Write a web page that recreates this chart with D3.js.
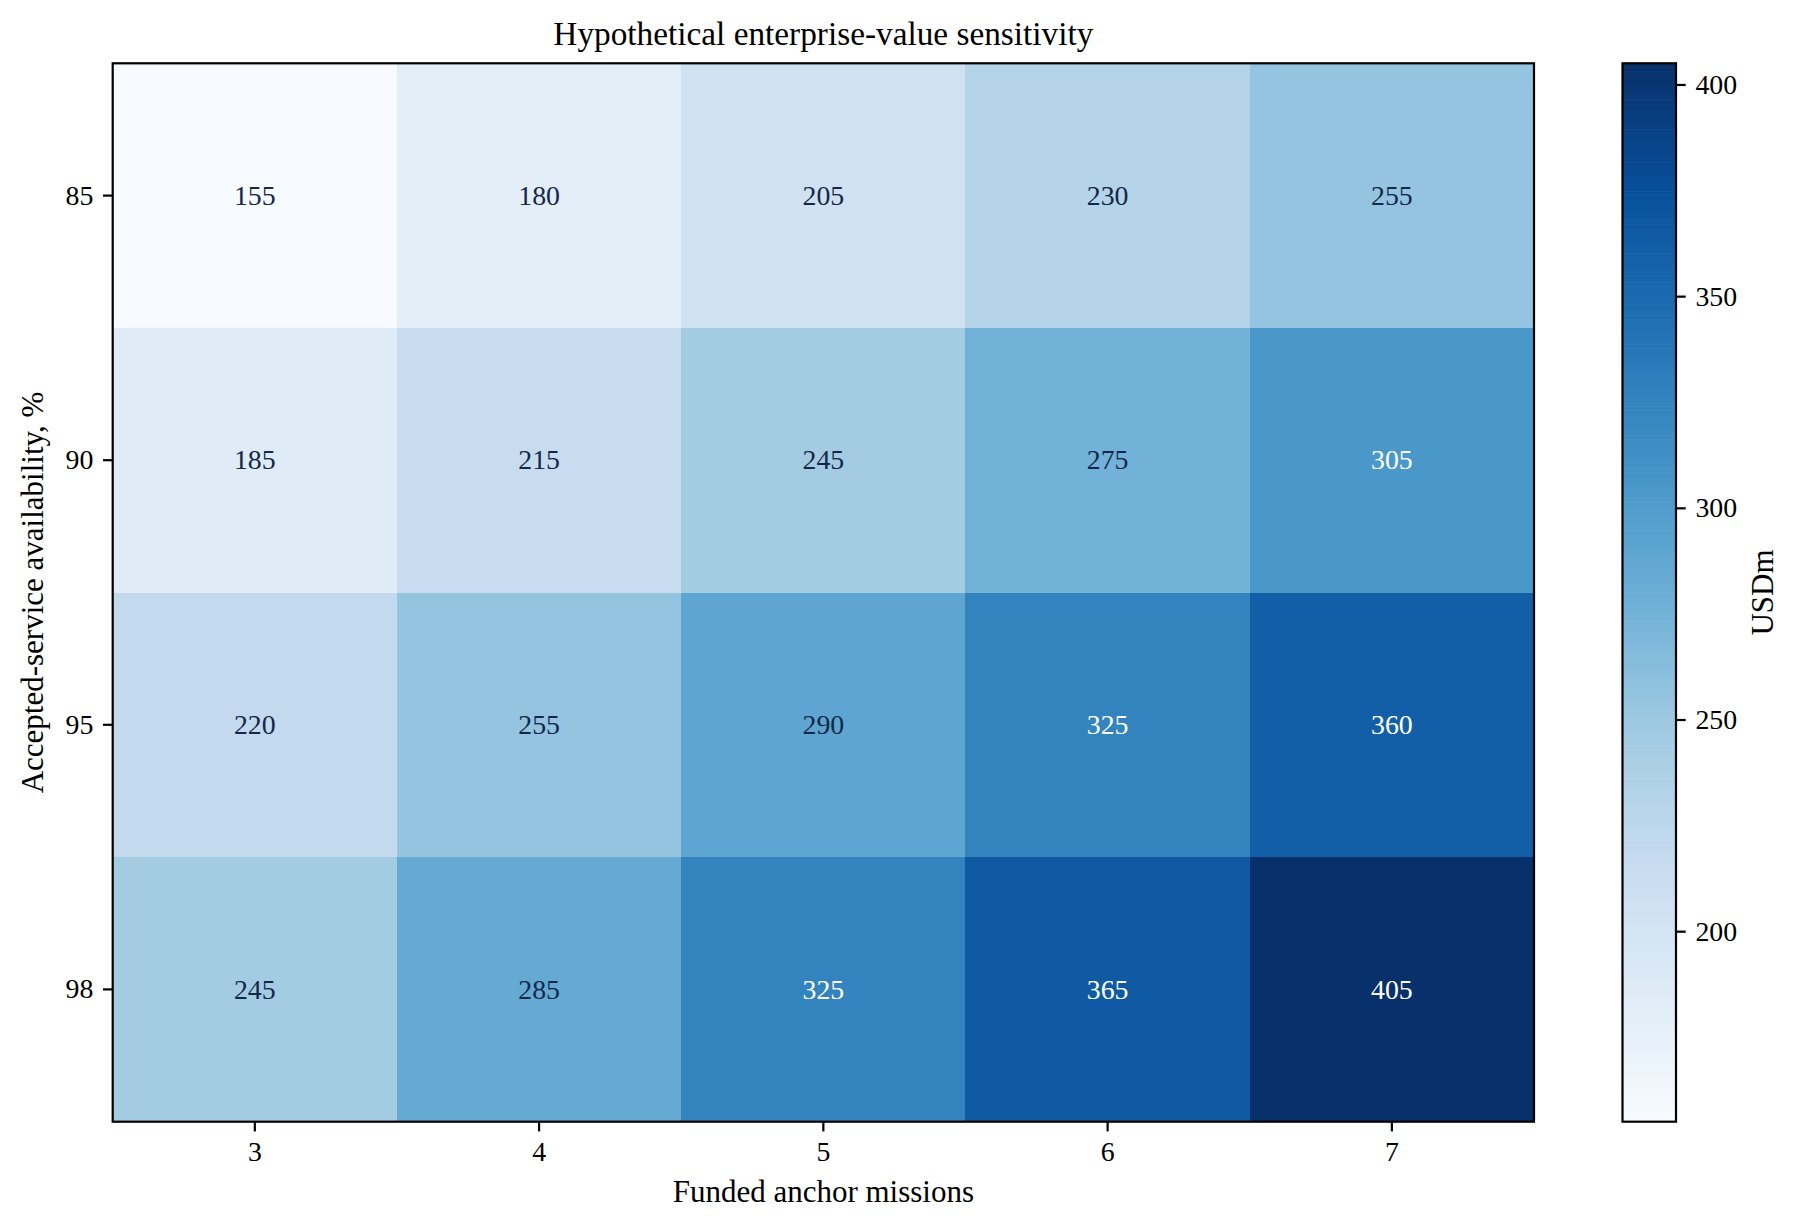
<!DOCTYPE html>
<html>
<head>
<meta charset="utf-8">
<script src="https://cdn.jsdelivr.net/npm/d3@7"></script>
<style>
  body { margin: 0; background: #fff; }
  svg text { font-family: "Liberation Serif", "Times New Roman", serif; }
</style>
</head>
<body>
<svg id="chart" width="1801" height="1231"></svg>
<script>
// data
const missions = [3, 4, 5, 6, 7];
const availability = [85, 90, 95, 98];
const values = [
  [155, 180, 205, 230, 255],
  [185, 215, 245, 275, 305],
  [220, 255, 290, 325, 360],
  [245, 285, 325, 365, 405]
];
const cbarTicks = [200, 250, 300, 350, 400];

// matplotlib "Blues" stops
const bluesStops = ["#f7fbff", "#deebf7", "#c6dbef", "#9ecae1", "#6baed6",
                    "#4292c6", "#2171b5", "#08519c", "#08306b"];

const svg = d3.select("#chart");
const W = 1801, H = 1231;
const plot = { left: 112.7, top: 63.3, right: 1534, bottom: 1121.7 };
const cbar = { left: 1622.5, right: 1676, top: 63.3, bottom: 1121.7 };
const fs = 27.8;
const labelFs = 31;
const tick = 9.7;

svg.append("rect").attr("width", W).attr("height", H).attr("fill", "#fff");

const flat = values.flatMap((row, i) => row.map((v, j) => ({ row: availability[i], col: missions[j], v })));
const vmin = d3.min(flat, d => d.v), vmax = d3.max(flat, d => d.v);

const color = d3.scaleLinear()
  .domain(d3.range(bluesStops.length).map(i => vmin + (vmax - vmin) * i / (bluesStops.length - 1)))
  .range(bluesStops)
  .interpolate(d3.interpolateRgb);

const x = d3.scaleBand().domain(missions).range([plot.left, plot.right]).padding(0);
const y = d3.scaleBand().domain(availability).range([plot.top, plot.bottom]).padding(0);

// cells
svg.append("g")
  .selectAll("rect")
  .data(flat)
  .join("rect")
  .attr("x", d => x(d.col))
  .attr("y", d => y(d.row))
  .attr("width", x.bandwidth() + 0.5)
  .attr("height", y.bandwidth() + 0.5)
  .attr("fill", d => color(d.v))
  .attr("shape-rendering", "crispEdges");

// cell labels
svg.append("g")
  .selectAll("text")
  .data(flat)
  .join("text")
  .attr("x", d => x(d.col) + x.bandwidth() / 2)
  .attr("y", d => y(d.row) + y.bandwidth() / 2)
  .attr("dy", "0.33em")
  .attr("text-anchor", "middle")
  .attr("font-size", fs)
  .attr("fill", d => d.v > 300 ? "#ffffff" : "#13284a")
  .text(d => d.v);

// frame
svg.append("rect")
  .attr("x", plot.left).attr("y", plot.top)
  .attr("width", plot.right - plot.left).attr("height", plot.bottom - plot.top)
  .attr("fill", "none").attr("stroke", "#000").attr("stroke-width", 2.2);

const styleAxis = g => {
  g.select(".domain").remove();
  g.selectAll(".tick line").attr("stroke", "#000").attr("stroke-width", 2.2);
  g.selectAll(".tick text").attr("font-size", fs).attr("fill", "#000")
    .attr("font-family", "Liberation Serif, Times New Roman, serif");
};

svg.append("g")
  .attr("transform", `translate(0,${plot.bottom})`)
  .call(d3.axisBottom(x).tickSize(tick).tickPadding(tick).tickSizeOuter(0))
  .call(styleAxis);

svg.append("g")
  .attr("transform", `translate(${plot.left},0)`)
  .call(d3.axisLeft(y).tickSize(tick).tickPadding(tick).tickSizeOuter(0))
  .call(styleAxis);

// titles
svg.append("text")
  .attr("x", (plot.left + plot.right) / 2).attr("y", 45)
  .attr("text-anchor", "middle").attr("font-size", 33.3)
  .text("Hypothetical enterprise-value sensitivity");

svg.append("text")
  .attr("x", (plot.left + plot.right) / 2).attr("y", 1202)
  .attr("text-anchor", "middle").attr("font-size", labelFs)
  .text("Funded anchor missions");

svg.append("text")
  .attr("transform", `translate(43,${(plot.top + plot.bottom) / 2}) rotate(-90)`)
  .attr("text-anchor", "middle").attr("font-size", labelFs)
  .text("Accepted-service availability, %");

// colorbar
const cy = d3.scaleLinear().domain([vmin, vmax]).range([cbar.bottom, cbar.top]);
const steps = d3.range(256).map(i => vmin + (vmax - vmin) * i / 256);
const stepH = (cbar.bottom - cbar.top) / 256;

svg.append("g")
  .selectAll("rect")
  .data(steps)
  .join("rect")
  .attr("x", cbar.left)
  .attr("y", d => cy(d) - stepH - 0.3)
  .attr("width", cbar.right - cbar.left)
  .attr("height", stepH + 0.6)
  .attr("fill", d => color(d + (vmax - vmin) / 512));

svg.append("rect")
  .attr("x", cbar.left).attr("y", cbar.top)
  .attr("width", cbar.right - cbar.left).attr("height", cbar.bottom - cbar.top)
  .attr("fill", "none").attr("stroke", "#000").attr("stroke-width", 2.2);

svg.append("g")
  .attr("transform", `translate(${cbar.right},0)`)
  .call(d3.axisRight(cy).tickValues(cbarTicks).tickSize(tick).tickPadding(tick).tickSizeOuter(0))
  .call(styleAxis);

svg.append("text")
  .attr("transform", `translate(1773,${(cbar.top + cbar.bottom) / 2}) rotate(-90)`)
  .attr("text-anchor", "middle").attr("font-size", labelFs)
  .text("USDm");
</script>
</body>
</html>
